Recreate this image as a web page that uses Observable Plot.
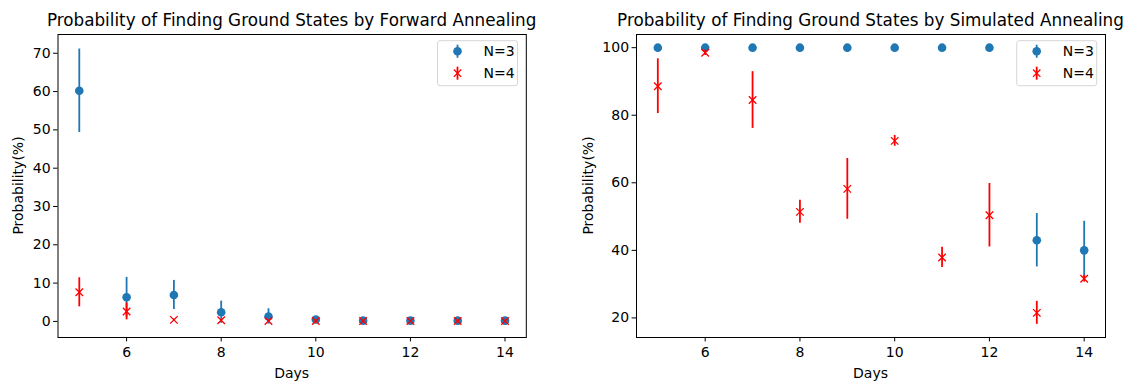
<!DOCTYPE html>
<html><head><meta charset="utf-8">
<script src="https://cdn.jsdelivr.net/npm/d3@7"></script>
<script src="https://cdn.jsdelivr.net/npm/@observablehq/plot@0.6"></script>
<style>
html,body{margin:0;padding:0;background:#fff;}
#wrap{position:relative;width:1129px;height:381px;overflow:hidden;}
#wrap svg{position:absolute;top:0;}
</style></head><body><div id="wrap"></div>
<script>
// ---- data ----
const days = [5, 6, 7, 8, 9, 10, 11, 12, 13, 14];
const seriesNames = ["N=3", "N=4"];
// Forward annealing
const faN3 = [60.2, 6.3, 6.9, 2.4, 1.3, 0.5, 0.2, 0.2, 0.2, 0.2];
const faN3Err = [10.9, 5.2, 3.8, 2.9, 2.0, 0.6, 0.1, 0.1, 0.1, 0.1];
const faN4 = [7.6, 2.6, 0.4, 0.3, 0.1, 0.1, 0.1, 0.1, 0.1, 0.1];
const faN4Err = [3.8, 2.2, 0.2, 0.2, 0.3, 0.1, 0.1, 0.1, 0.1, 0.1];
// Simulated annealing
const saN3 = [100, 100, 100, 100, 100, 100, 100, 100, 43.0, 40.0];
const saN3Err = [0, 0, 0, 0, 0, 0, 0, 0, 7.9, 8.6];
const saN4 = [88.6, 98.5, 84.5, 51.4, 58.2, 72.4, 37.9, 50.4, 21.5, 31.6];
const saN4Err = [8.1, 0.8, 8.4, 3.4, 9.0, 1.6, 3.0, 9.4, 3.4, 1.0];
// ticks
const xTicks = [6, 8, 10, 12, 14];
const faYTicks = [0, 10, 20, 30, 40, 50, 60, 70];
const saYTicks = [20, 40, 60, 80, 100];

const BLUE = "#1f77b4", RED = "#ff0000";
const FONT = "DejaVu Sans";
const FS = 14;

function rows(vals, errs) {
  return days.map((d, i) => ({day: d, v: vals[i], lo: vals[i] - errs[i], hi: vals[i] + errs[i]}));
}

function panel({title, n3, n4, yDomain, yTicks, left, width, mL, mR, ylx}) {
  const mT = 34, mB = 44, H = 381;
  const svg = Plot.plot({
    width, height: H,
    marginLeft: mL, marginRight: mR, marginTop: mT, marginBottom: mB,
    style: {fontFamily: FONT, fontSize: FS + "px", color: "black", background: "white", overflow: "visible"},
    x: {domain: [4.55, 14.45], ticks: xTicks},
    y: {domain: yDomain, ticks: yTicks},
    marks: [
      Plot.ruleX(n3, {x: "day", y1: "lo", y2: "hi", stroke: BLUE, strokeWidth: 1.8}),
      Plot.dot(n3, {x: "day", y: "v", r: 4.3, fill: BLUE, stroke: null}),
      Plot.ruleX(n4, {x: "day", y1: "lo", y2: "hi", stroke: RED, strokeWidth: 1.8}),
      Plot.dot(n4, {x: "day", y: "v", r: 3.5, symbol: "times", stroke: RED, strokeWidth: 1.3}),
      Plot.frame({stroke: "black", strokeWidth: 1}),
      Plot.axisX({ticks: xTicks, tickSize: 4.4, tickPadding: 5, label: null}),
      Plot.axisY({ticks: yTicks, tickSize: 4.4, tickPadding: 3, label: null})
    ]
  });
  svg.style.left = left + "px";
  const s = d3.select(svg);
  const fL = mL, fR = width - mR, fT = mT, fB = H - mB;
  const cx = (fL + fR) / 2;
  s.append("text").attr("x", cx).attr("y", 20).attr("dy", "0.35em")
    .attr("text-anchor", "middle").attr("font-size", 16.8).attr("fill", "black").text(title);
  s.append("text").attr("x", cx).attr("y", 373).attr("dy", "0.35em")
    .attr("text-anchor", "middle").attr("font-size", FS).attr("fill", "black").text("Days");
  s.append("text").attr("transform", `translate(${ylx},${(fT + fB) / 2}) rotate(-90)`).attr("dy", "0.35em")
    .attr("text-anchor", "middle").attr("font-size", FS).attr("fill", "black").text("Probability(%)");
  // legend
  const bw = 80, bh = 45, bx = fR - 8.3 - bw, by = fT + 6.7;
  const g = s.append("g");
  g.append("rect").attr("x", bx).attr("y", by).attr("width", bw).attr("height", bh)
    .attr("rx", 2.5).attr("fill", "white").attr("fill-opacity", 0.8).attr("stroke", "#d6d6d6").attr("stroke-width", 1);
  const rowsY = [by + 10.5, by + 32.5];
  const mx = bx + 20;
  g.append("line").attr("x1", mx).attr("x2", mx).attr("y1", rowsY[0] - 6.5).attr("y2", rowsY[0] + 6.5).attr("stroke", BLUE).attr("stroke-width", 1.8);
  g.append("circle").attr("cx", mx).attr("cy", rowsY[0]).attr("r", 4.3).attr("fill", BLUE);
  g.append("line").attr("x1", mx).attr("x2", mx).attr("y1", rowsY[1] - 6.5).attr("y2", rowsY[1] + 6.5).attr("stroke", RED).attr("stroke-width", 1.8);
  g.append("path").attr("d", `M${mx - 3.7},${rowsY[1] - 3.7}L${mx + 3.7},${rowsY[1] + 3.7}M${mx - 3.7},${rowsY[1] + 3.7}L${mx + 3.7},${rowsY[1] - 3.7}`)
    .attr("stroke", RED).attr("stroke-width", 1.3).attr("fill", "none");
  seriesNames.forEach((nm, i) => {
    g.append("text").attr("x", bx + 46).attr("y", rowsY[i]).attr("dy", "0.35em")
      .attr("text-anchor", "start").attr("font-size", FS).attr("fill", "black").text(nm);
  });
  document.getElementById("wrap").appendChild(svg);
}

panel({
  title: "Probability of Finding Ground States by Forward Annealing",
  n3: rows(faN3, faN3Err), n4: rows(faN4, faN4Err),
  yDomain: [-4.2, 74.9], yTicks: faYTicks,
  left: 0, width: 564, mL: 57.5, mR: 38.2, ylx: 18
});
panel({
  title: "Probability of Finding Ground States by Simulated Annealing",
  n3: rows(saN3, saN3Err), n4: rows(saN4, saN4Err),
  yDomain: [14.2, 103.9], yTicks: saYTicks,
  left: 564, width: 565, mL: 72, mR: 24, ylx: 24
});
</script></body></html>
